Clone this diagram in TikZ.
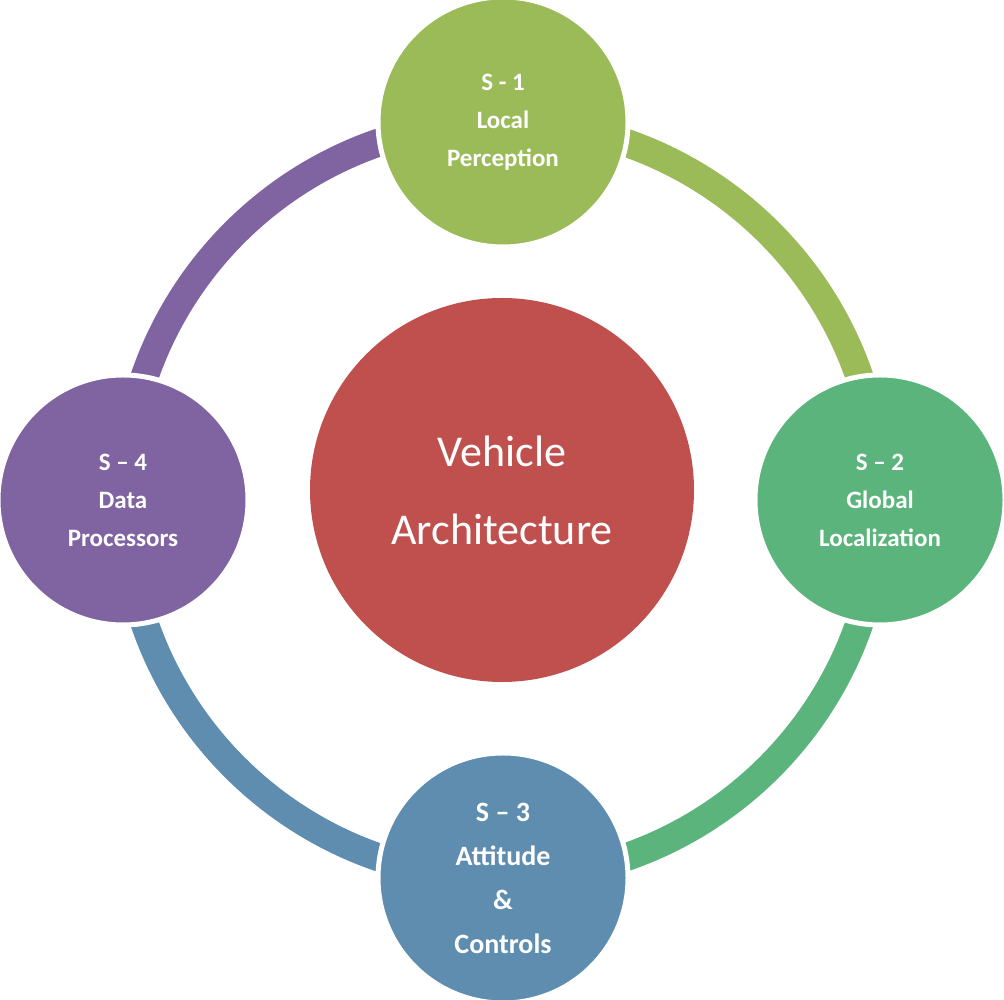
\documentclass[tikz,border=0pt]{standalone}
\usepackage{fontspec}
\setmainfont{Carlito}
\begin{document}
\begin{tikzpicture}[x=1pt,y=1pt,
  ring/.style={line width=28pt},
  sat/.style={circle,draw=white,line width=5pt,minimum size=250pt,inner sep=0pt,text=white,font=\bfseries\fontsize{25}{38}\selectfont,align=center}]
\useasboundingbox (0,0) rectangle (1004,1000);
\coordinate (c) at (502,500);
\draw[ring,draw={rgb,255:red,128;green,100;blue,162}] (c) ++(90:378) arc (90:180:378);
\draw[ring,draw={rgb,255:red,155;green,187;blue,89}] (c) ++(0:378) arc (0:90:378);
\draw[ring,draw={rgb,255:red,91;green,180;blue,123}] (c) ++(270:378) arc (270:360:378);
\draw[ring,draw={rgb,255:red,94;green,141;blue,176}] (c) ++(180:378) arc (180:270:378);
\node[circle,fill={rgb,255:red,192;green,80;blue,77},minimum size=384pt,inner sep=0pt,text=white,align=center,font=\fontsize{44}{78}\selectfont] (m) at (502,510) {Vehicle\\Architecture};
\node[sat,fill={rgb,255:red,155;green,187;blue,89}] (s1) at (503,878) {S - 1\\Local\\Perception};
\node[sat,fill={rgb,255:red,91;green,180;blue,123}] (s2) at (880,500) {S -- 2\\Global\\Localization};
\node[sat,fill={rgb,255:red,94;green,141;blue,176},font=\bfseries\fontsize{28}{44}\selectfont] (s3) at (503,122) {S -- 3\\Attitude\\\&\\Controls};
\node[sat,fill={rgb,255:red,128;green,100;blue,162}] (s4) at (123,500) {S -- 4\\Data\\Processors};
\end{tikzpicture}
\end{document}
